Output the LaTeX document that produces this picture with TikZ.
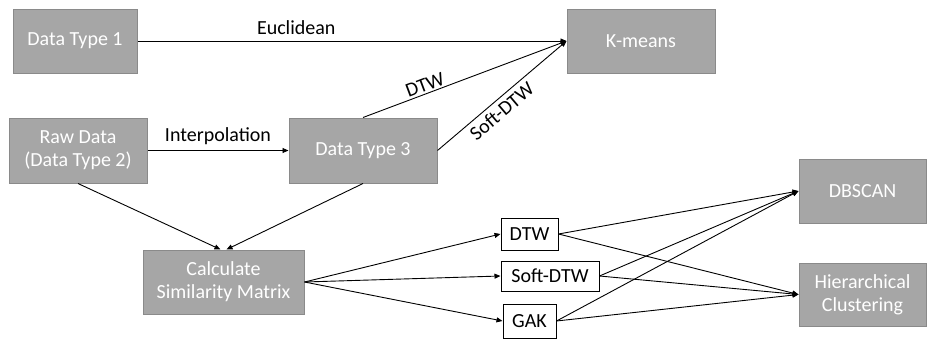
\documentclass[tikz,border=0pt]{standalone}
\usepackage{fontspec}
\setmainfont{Carlito}
\usetikzlibrary{arrows.meta}
\definecolor{boxfill}{HTML}{A6A6A6}
\definecolor{boxline}{HTML}{8A8A8A}
\begin{document}
\begin{tikzpicture}[x=1pt,y=-1pt,
  gbox/.style={draw=boxline, line width=1pt, fill=boxfill, text=white, font=\fontsize{20}{23}\selectfont, align=center, inner sep=0pt},
  wbox/.style={draw=black, line width=1pt, fill=white, text=black, font=\fontsize{20}{23}\selectfont, align=center, inner sep=0pt},
  conn/.style={line width=0.9pt, -{Triangle[length=6pt,width=5pt]}},
  lbl/.style={font=\fontsize{20}{23}\selectfont, text=black}]
\useasboundingbox (0,0) rectangle (929,340);
\node[gbox, minimum width=124, minimum height=64] (dt1) at (75,41) {Data Type 1};
\node[gbox, minimum width=148, minimum height=64] (km) at (641,41) {K-means};
\node[gbox, minimum width=138, minimum height=65] (raw) at (78,150.5) {Raw Data\\(Data Type 2)};
\node[gbox, minimum width=148, minimum height=65] (dt3) at (363,150.5) {Data Type 3};
\node[gbox, minimum width=161, minimum height=64] (calc) at (223.5,282) {Calculate\\Similarity Matrix};
\node[wbox, minimum width=57, minimum height=32] (dtw) at (529.5,234) {DTW};
\node[wbox, minimum width=98, minimum height=30] (sdtw) at (550,276) {Soft-DTW};
\node[wbox, minimum width=53, minimum height=34] (gak) at (529.5,321) {GAK};
\node[gbox, minimum width=127, minimum height=64] (dbs) at (862.5,191) {DBSCAN};
\node[gbox, minimum width=127, minimum height=63] (hc) at (862.5,294.5) {Hierarchical\\Clustering};

\draw[conn] (dt1.east) -- node[lbl, above, pos=0.37, yshift=3pt] {Euclidean} (km.west);
\draw[conn] (dt3.north) -- node[lbl, above, sloped, pos=0.32, inner sep=2pt] {DTW} (km.west);
\draw[conn] (dt3.east) -- node[lbl, below, sloped, pos=0.44, inner sep=4pt] {Soft-DTW} (km.west);
\draw[conn] (raw.east) -- node[lbl, above, yshift=2pt] {Interpolation} (dt3.west);
\draw[conn] (raw.south) -- ([xshift=-3]calc.north);
\draw[conn] (dt3.south) -- ([xshift=3]calc.north);
\draw[conn] (calc.east) -- (dtw.west);
\draw[conn] (calc.east) -- (sdtw.west);
\draw[conn] (calc.east) -- (gak.west);
\foreach \s in {dtw,sdtw,gak}{
  \draw[conn] (\s.east) -- (dbs.west);
  \draw[conn] (\s.east) -- (hc.west);
}
\end{tikzpicture}
\end{document}
